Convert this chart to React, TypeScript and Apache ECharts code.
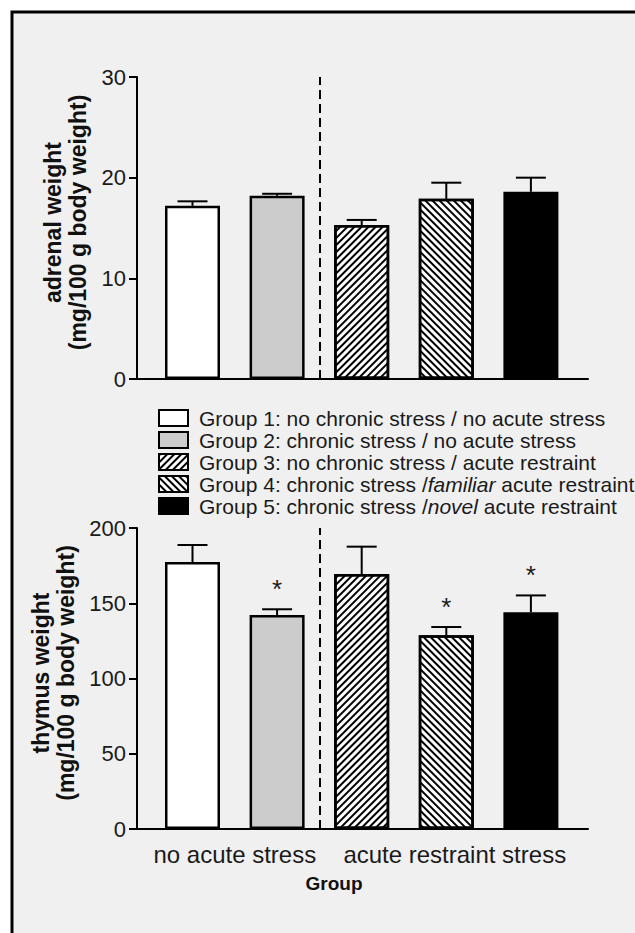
import React, { useEffect, useRef } from 'react';
import * as echarts from 'echarts';

// ---------- data ----------
const groupNames = [
  'Group 1: no chronic stress / no acute stress',
  'Group 2: chronic stress / no acute stress',
  'Group 3: no chronic stress / acute restraint',
  'Group 4: chronic stress /familiar acute restraint',
  'Group 5: chronic stress /novel acute restraint',
];
const italicWords = ['familiar', 'novel'];
const groupPositions = [0, 1, 2, 3, 4];
const adrenalMeans = [17.2, 18.2, 15.3, 17.9, 18.6];
const adrenalErrors = [0.45, 0.2, 0.5, 1.6, 1.4];
const thymusMeans = [177.4, 142.2, 169.4, 128.7, 144.0];
const thymusErrors = [11.3, 3.8, 18.2, 5.5, 11.2];
const thymusSignificant = [0, 1, 0, 1, 1];
const adrenalSignificant = [0, 0, 0, 0, 0];
const adrenalAxis = { min: 0, max: 30, interval: 10 };
const thymusAxis = { min: 0, max: 200, interval: 50 };
const conditionLabels = ['no acute stress', 'acute restraint stress'];
const conditionPositions = [0.5, 3.1];
const dividerPositions = [1.5];
const xAxisTitle = 'Group';
const adrenalTitle = 'adrenal weight\n(mg/100 g body weight)';
const thymusTitle = 'thymus weight\n(mg/100 g body weight)';

// ---------- styles ----------
const FONT = '"Liberation Sans", Arial, sans-serif';
const TEXT = '#1a1a1a';
const groupFills: any[] = [
  { color: '#ffffff' },
  { color: '#cccccc' },
  {
    color: '#ffffff',
    decal: {
      symbol: 'rect', symbolSize: 1, color: '#000', backgroundColor: '#ffffff',
      dashArrayX: [1, 0], dashArrayY: [1.2, 2.7], rotation: -Math.PI / 4,
    },
  },
  {
    color: '#ffffff',
    decal: {
      symbol: 'rect', symbolSize: 1, color: '#000', backgroundColor: '#ffffff',
      dashArrayX: [1, 0], dashArrayY: [1.1, 2.4], rotation: Math.PI / 4,
    },
  },
  { color: '#000000' },
];

function buildPanel(g: number, means: number[], errs: number[], sig: number[]) {
  const bars = groupNames.map((name, k) => ({
    type: 'bar',
    name,
    xAxisIndex: g,
    yAxisIndex: g,
    data: [[groupPositions[k], means[k]]],
    barWidth: 55,
    barGap: '-100%',
    itemStyle: {
      color: groupFills[k].color,
      decal: groupFills[k].decal,
      borderColor: '#000',
      borderWidth: 2.5,
    },
    markLine: k === 0 ? {
      silent: true,
      symbol: ['none', 'none'],
      label: { show: false },
      lineStyle: { type: [9, 5], color: '#000', width: 2 },
      data: dividerPositions.map((x) => ({ xAxis: x })),
    } : undefined,
    z: 2,
  }));
  const errSeries = {
    type: 'custom',
    xAxisIndex: g,
    yAxisIndex: g,
    silent: true,
    z: 5,
    data: groupPositions.map((x, k) => [x, means[k], errs[k], sig[k]]),
    renderItem: (params: any, api: any) => {
      const x = api.value(0);
      const m = api.value(1);
      const e = api.value(2);
      const s = api.value(3);
      const p0 = api.coord([x, m]);
      const p1 = api.coord([x, m + e]);
      const hw = 15;
      const children: any[] = [
        { type: 'line', shape: { x1: p0[0], y1: p0[1], x2: p1[0], y2: p1[1] }, style: { stroke: '#000', lineWidth: 2 } },
        { type: 'line', shape: { x1: p1[0] - hw, y1: p1[1], x2: p1[0] + hw, y2: p1[1] }, style: { stroke: '#000', lineWidth: 2 } },
      ];
      if (s) {
        children.push({
          type: 'text',
          style: {
            text: '*', x: p1[0], y: p1[1] - 20, align: 'center', verticalAlign: 'middle',
            fontSize: 26, fontFamily: FONT, fill: TEXT,
          },
        });
      }
      return { type: 'group', children };
    },
  };
  return [...bars, errSeries];
}

const legendFormatter = (name: string) => {
  let out = name;
  italicWords.forEach((w) => {
    out = out.replace(w, `{i|${w}}`);
  });
  return out;
};

export default function App() {
  const ref = useRef<HTMLDivElement>(null);
  useEffect(() => {
    if (!ref.current) return;
    const chart = echarts.init(ref.current, undefined, { renderer: 'svg' });
    const yAxisCommon = (title: string, ax: any, gridIndex: number, nameGap: number) => ({
      type: 'value',
      gridIndex,
      min: ax.min,
      max: ax.max,
      interval: ax.interval,
      name: title,
      nameLocation: 'middle',
      nameRotate: 90,
      nameGap,
      nameTextStyle: {
        fontFamily: FONT, fontWeight: 'bold', fontSize: 23, lineHeight: 25, color: '#111',
        padding: [0, 0, 0, 11],
      },
      axisLine: { show: true, onZero: false, lineStyle: { color: '#000', width: 2 } },
      axisTick: { show: true, length: 8, lineStyle: { color: '#000', width: 2 } },
      axisLabel: { margin: 11, fontFamily: FONT, fontSize: 22, color: TEXT },
      splitLine: { show: false },
    });
    const xAxisCommon = (gridIndex: number) => ({
      type: 'value',
      gridIndex,
      min: -0.656,
      max: 4.675,
      axisLine: { show: true, onZero: false, lineStyle: { color: '#000', width: 2 } },
      axisTick: { show: false },
      axisLabel: { show: false },
      splitLine: { show: false },
    });
    const labelSeries = {
      type: 'custom',
      xAxisIndex: 1,
      yAxisIndex: 1,
      silent: true,
      data: conditionPositions.map((x) => [x, 0]),
      renderItem: (params: any, api: any) => {
        const p = api.coord([api.value(0), api.value(1)]);
        return {
          type: 'text',
          style: {
            text: conditionLabels[params.dataIndex], x: p[0], y: p[1] + 25,
            align: 'center', verticalAlign: 'middle', fontSize: 24, fontFamily: FONT, fill: TEXT,
          },
        };
      },
    };
    chart.setOption({
      animation: false,
      backgroundColor: '#ffffff',
      graphic: [
        {
          type: 'rect', z: -10, silent: true,
          shape: { x: 12, y: 12, width: 700, height: 1000 },
          style: { fill: '#f0f0f0', stroke: '#000', lineWidth: 3 },
        },
        {
          type: 'text', z: 10, x: 334, y: 883,
          style: {
            text: xAxisTitle, align: 'center', verticalAlign: 'middle',
            fontSize: 19, fontWeight: 'bold', fontFamily: FONT, fill: '#111',
          },
        },
      ],
      grid: [
        { left: 137, top: 77, width: 451, height: 302 },
        { left: 137, top: 528, width: 451, height: 301 },
      ],
      xAxis: [xAxisCommon(0), xAxisCommon(1)],
      yAxis: [
        yAxisCommon(adrenalTitle, adrenalAxis, 0, 46),
        yAxisCommon(thymusTitle, thymusAxis, 1, 56),
      ],
      legend: {
        orient: 'vertical',
        left: 158,
        top: 407,
        padding: 0,
        itemWidth: 29,
        itemHeight: 16,
        itemGap: 0,
        icon: 'rect',
        selectedMode: false,
        data: groupNames,
        formatter: legendFormatter,
        textStyle: {
          fontFamily: FONT, fontSize: 21, color: TEXT, lineHeight: 22, padding: [0, 0, 0, 6],
          rich: { i: { fontFamily: FONT, fontSize: 21, color: TEXT, lineHeight: 22, fontStyle: 'italic' } },
        },
      },
      series: [
        ...buildPanel(0, adrenalMeans, adrenalErrors, adrenalSignificant),
        ...buildPanel(1, thymusMeans, thymusErrors, thymusSignificant),
        labelSeries,
      ],
    });
    return () => chart.dispose();
  }, []);
  return (
    <div
      ref={ref}
      style={{ position: 'absolute', left: 0, top: 0, width: 635, height: 933, background: '#fff' }}
    />
  );
}
